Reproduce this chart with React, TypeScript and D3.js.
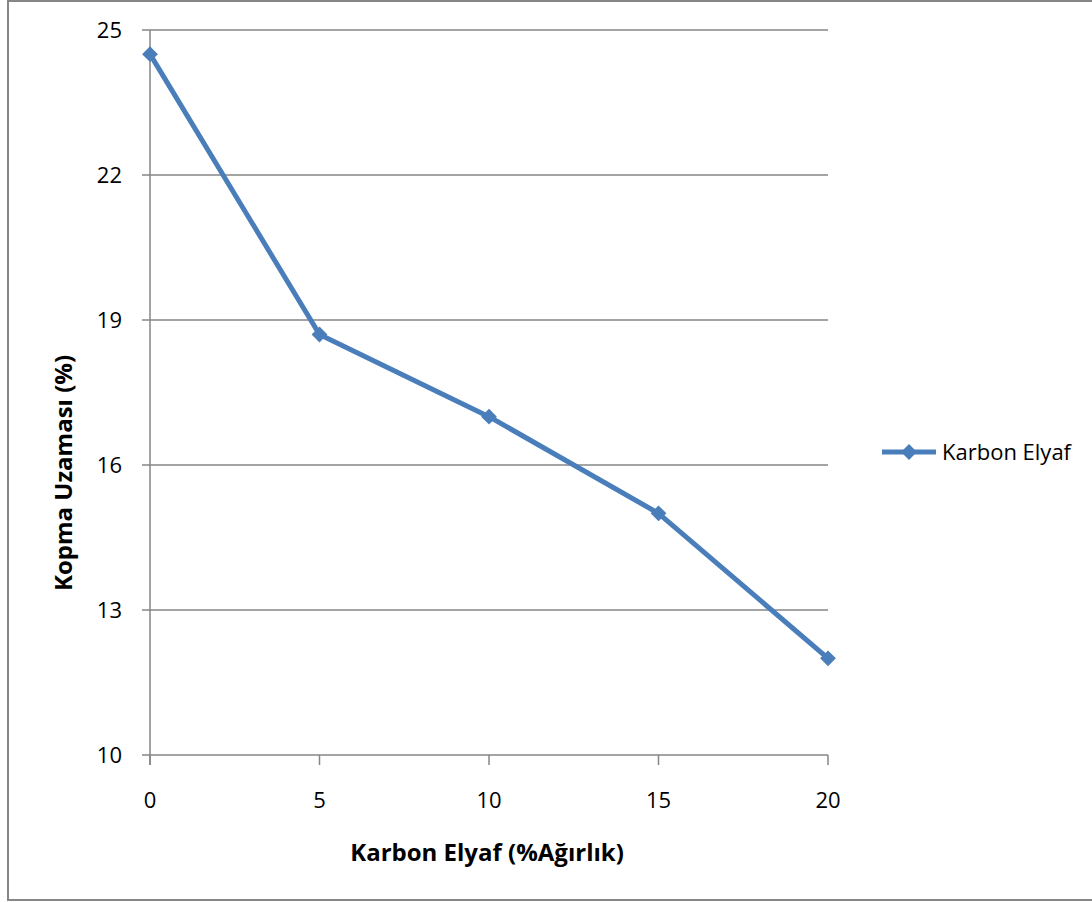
import React from "react";
import * as d3 from "d3";

const fiberPct = [0, 5, 10, 15, 20];
const elongation = [24.5, 18.7, 17.0, 15.0, 12.0];
const yTicks = [10, 13, 16, 19, 22, 25];
const xTicks = [0, 5, 10, 15, 20];
const seriesName = "Karbon Elyaf";

const W = 1092;
const H = 902;
const font = "'Open Sans', 'Noto Sans', sans-serif";
const lineColor = "#4a7ebb";
const axisColor = "#868686";

export default function App() {
  const x = d3.scaleLinear().domain([0, 20]).range([150, 828]);
  const y = d3.scaleLinear().domain([10, 25]).range([755, 30]);

  const pts = fiberPct.map((v, i) => [x(v), y(elongation[i])] as [number, number]);
  const line = d3.line()(pts) || "";
  // square rotated 45deg, like the Excel diamond marker
  const diamond = d3.symbol().type(d3.symbolSquare).size(125)() || "";

  return (
    <svg
      width={W}
      height={H}
      style={{ position: "absolute", left: 0, top: 0, background: "#fff" }}
    >
      <rect x={8} y={1} width={W + 10} height={H - 3} fill="#fff" stroke={axisColor} strokeWidth={2} />

      {/* gridlines + y ticks */}
      {yTicks.map((t) => (
        <g key={"y" + t}>
          <line x1={142} x2={828} y1={y(t)} y2={y(t)} stroke={axisColor} strokeWidth={1.5} />
          <text x={122} y={y(t)} dy="0.36em" textAnchor="end" fontFamily={font} fontSize={22} fill="#000">
            {t}
          </text>
        </g>
      ))}

      {/* y axis */}
      <line x1={150} x2={150} y1={y(25)} y2={y(10) + 10} stroke={axisColor} strokeWidth={1.5} />

      {/* x ticks */}
      {xTicks.map((t) => (
        <g key={"x" + t}>
          <line x1={x(t)} x2={x(t)} y1={y(10)} y2={y(10) + 10} stroke={axisColor} strokeWidth={1.5} />
          <text x={x(t)} y={808} textAnchor="middle" fontFamily={font} fontSize={22} fill="#000">
            {t}
          </text>
        </g>
      ))}

      <path d={line} fill="none" stroke={lineColor} strokeWidth={5} strokeLinejoin="round" />
      {pts.map((p, i) => (
        <path key={i} d={diamond} transform={`translate(${p[0]},${p[1]}) rotate(45)`} fill={lineColor} />
      ))}

      {/* axis titles */}
      <text x={487} y={861} textAnchor="middle" fontFamily={font} fontSize={24} fontWeight="bold" fill="#000">
        Karbon Elyaf (%Ağırlık)
      </text>
      <text
        transform={`translate(72,473) rotate(-90)`}
        textAnchor="middle"
        fontFamily={font}
        fontSize={24}
        fontWeight="bold"
        fill="#000"
      >
        Kopma Uzaması (%)
      </text>

      {/* legend */}
      <line x1={882} x2={936} y1={452} y2={452} stroke={lineColor} strokeWidth={5} />
      <path d={diamond} transform="translate(909,452) rotate(45)" fill={lineColor} />
      <text x={942} y={452} dy="0.36em" fontFamily={font} fontSize={22} fill="#000">
        {seriesName}
      </text>
    </svg>
  );
}
